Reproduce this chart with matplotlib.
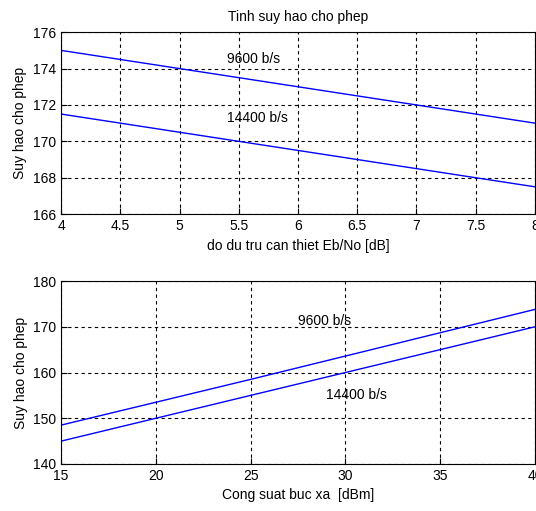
import matplotlib.pyplot as plt
import numpy as np

plt.rcParams['font.family'] = ['Liberation Sans', 'DejaVu Sans']

# top panel: Eb/No margin vs allowed loss
ebno = [4, 5, 6, 7, 8]
loss_9600_top = [175.0, 174.0, 173.0, 172.0, 171.0]
loss_14400_top = [171.5, 170.5, 169.5, 168.5, 167.5]

# bottom panel: radiated power vs allowed loss
power = [15, 20, 25, 30, 35, 40]
loss_9600_bot = [148.5, 153.5, 158.5, 163.6, 168.7, 173.8]
loss_14400_bot = [145.0, 150.0, 155.0, 160.0, 165.0, 170.0]

blue = (0, 0, 1)
fs = 10


def style(ax):
    ax.grid(True, color='black', linestyle=(0, (3, 3)), linewidth=0.8)
    ax.tick_params(direction='in', length=4, labelsize=fs, colors='black')
    for s in ax.spines.values():
        s.set_linewidth(0.8)


fig = plt.figure(figsize=(5.36, 5.11), dpi=100)
ax1 = fig.add_axes([0.114, 0.581, 0.884, 0.356])
ax2 = fig.add_axes([0.114, 0.092, 0.884, 0.358])

ax1.plot(ebno, loss_9600_top, color=blue, linewidth=1)
ax1.plot(ebno, loss_14400_top, color=blue, linewidth=1)
ax1.set_xlim(4, 8)
ax1.set_ylim(166, 176)
ax1.set_xticks(np.arange(4, 8.01, 0.5))
ax1.set_xticklabels(['4', '4.5', '5', '5.5', '6', '6.5', '7', '7.5', '8'])
ax1.set_yticks(np.arange(166, 177, 2))
ax1.text(5.4, 174.5, '9600 b/s', fontsize=fs, va='center')
ax1.text(5.4, 171.3, '14400 b/s', fontsize=fs, va='center')
ax1.set_title('Tinh suy hao cho phep', fontsize=fs, pad=8)
ax1.set_xlabel('do du tru can thiet Eb/No [dB]', fontsize=fs, labelpad=4)
ax1.set_ylabel('Suy hao cho phep', fontsize=fs)
style(ax1)

ax2.plot(power, loss_9600_bot, color=blue, linewidth=1)
ax2.plot(power, loss_14400_bot, color=blue, linewidth=1)
ax2.set_xlim(15, 40)
ax2.set_ylim(140, 180)
ax2.set_xticks(np.arange(15, 41, 5))
ax2.set_yticks(np.arange(140, 181, 10))
ax2.text(27.5, 171.2, '9600 b/s', fontsize=fs, va='center')
ax2.text(29.0, 155.1, '14400 b/s', fontsize=fs, va='center')
ax2.set_xlabel('Cong suat buc xa  [dBm]', fontsize=fs, labelpad=4)
ax2.set_ylabel('Suy hao cho phep', fontsize=fs)
style(ax2)

fig.savefig('out.png', dpi=100)
